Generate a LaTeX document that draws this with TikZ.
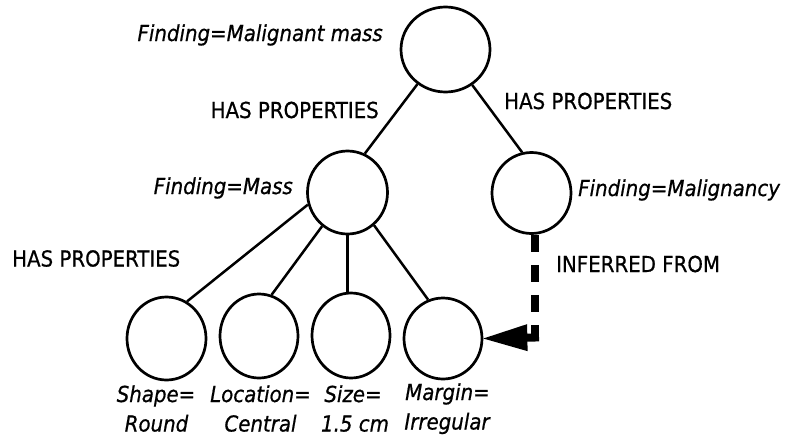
\documentclass[tikz,border=0pt]{standalone}
\usepackage{fontspec}
\setmainfont{DejaVu Sans Condensed}[FakeBold=0.7]
\usetikzlibrary{arrows.meta,shapes.geometric}
\begin{document}
\begin{tikzpicture}[x=1pt,y=-1pt,
  circ/.style={draw, ellipse, line width=2.7pt, inner sep=0pt},
  lbl/.style={font=\fontsize{22}{26}\selectfont, inner sep=0pt},
  ilbl/.style={font=\fontsize{22}{26}\selectfont\itshape, inner sep=0pt},
  link/.style={line width=2.5pt},
]
\useasboundingbox (0,0) rectangle (798,437);

% concept nodes
\node[circ, minimum width=89pt, minimum height=85pt] (top)    at (445.5,49.5) {};
\node[circ, minimum width=80pt, minimum height=83pt] (mass)   at (347.5,192.5) {};
\node[circ, minimum width=79pt, minimum height=81pt] (malig)  at (531.5,193) {};
\node[circ, minimum width=79pt, minimum height=83pt] (shape)  at (166.5,338.5) {};
\node[circ, minimum width=78pt, minimum height=84pt] (loc)    at (259,336) {};
\node[circ, minimum width=78pt, minimum height=85pt] (size)   at (351,335.5) {};
\node[circ, minimum width=78pt, minimum height=81pt] (margin) at (443,338.5) {};

% connectors
\draw[link] (top.231) -- (mass.66);
\draw[link] (top.307) -- (malig.103);
\draw[link] (mass.197) -- (shape.61);
\draw[link] (mass.233) -- (loc.73);
\draw[link] (mass.south) -- (mass.south |- size.north);
\draw[link] (mass.309) -- (margin.111);

% inferred-from arrow
\coordinate (bend) at (535,337.5);
\draw[line width=8pt, dash pattern=on 17pt off 13pt] (malig.south -| bend) -- (bend);
\draw[line width=8pt, line cap=rect, -{Triangle[length=44pt,width=27pt,line width=0pt]}] (bend) -- (margin.east);

% labels
\node[ilbl, anchor=base east] (tmm)   at (383,41)  {Finding=Malignant mass};
\node[lbl,  anchor=base east] (hp1)   at (379,118) {HAS PROPERTIES};
\node[lbl,  anchor=base west] (hp2)   at (504,109) {HAS PROPERTIES};
\node[ilbl, anchor=base east] (tmass) at (293,194) {Finding=Mass};
\node[ilbl, anchor=base west] (tmal)  at (578,196) {Finding=Malignancy};
\node[lbl,  anchor=base west] (hp3)   at (12,266.5) {HAS PROPERTIES};
\node[lbl,  anchor=base west] (inf)   at (556,272) {INFERRED FROM};

\node[ilbl, anchor=base] (s1) at (156,402)    {Shape=};
\node[ilbl, anchor=base] (s2) at (156.5,431.5) {Round};
\node[ilbl, anchor=base] (l1) at (260.5,402)  {Location=};
\node[ilbl, anchor=base] (l2) at (260.5,431.5) {Central};
\node[ilbl, anchor=base] (z1) at (353,402)    {Size=};
\node[ilbl, anchor=base] (z2) at (355,431.5)  {1.5 cm};
\node[ilbl, anchor=base] (m1) at (447.5,400)  {Margin=};
\node[ilbl, anchor=base] (m2) at (447,429.5)  {Irregular};
\end{tikzpicture}
\end{document}
